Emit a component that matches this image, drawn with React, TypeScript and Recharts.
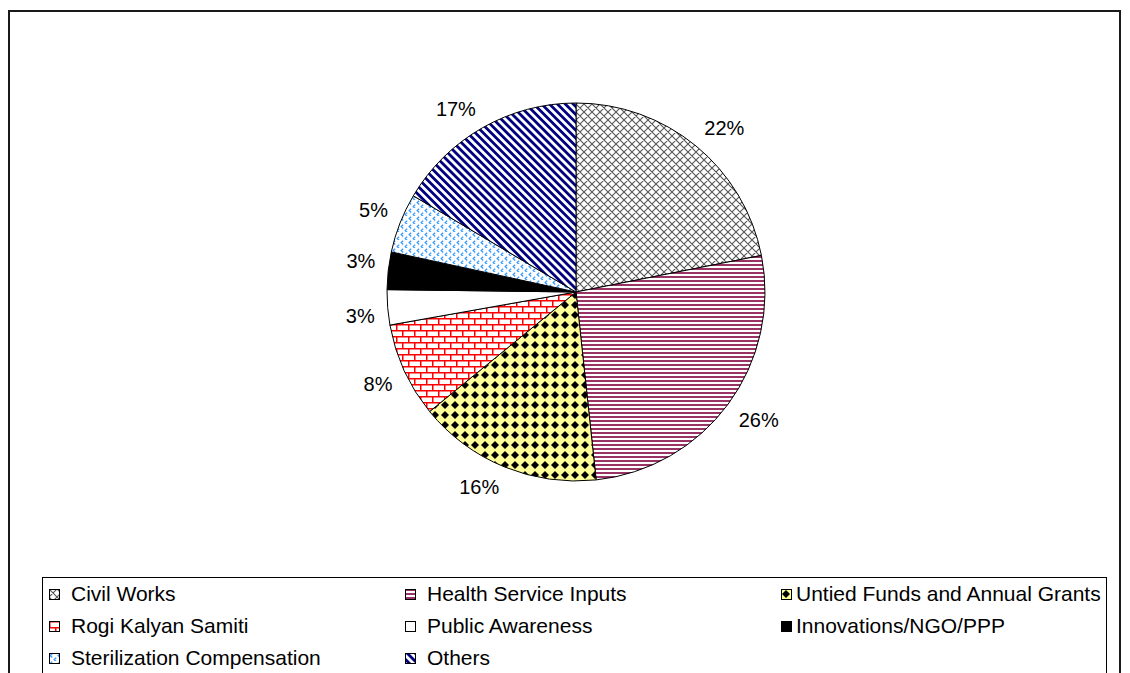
import React from 'react';
import { PieChart, Pie, Cell, Legend } from 'recharts';

const categories = [
  'Civil Works',
  'Health Service Inputs',
  'Untied Funds and Annual Grants',
  'Rogi Kalyan Samiti',
  'Public Awareness',
  'Innovations/NGO/PPP',
  'Sterilization Compensation',
  'Others',
];
const shares = [21.9, 26.4, 15.8, 8.1, 3.0, 3.2, 5.1, 16.5];
const fills = ['url(#p-cw)', 'url(#p-hsi)', 'url(#p-uf)', 'url(#p-rks)', '#ffffff', '#000000', 'url(#p-st)', 'url(#p-ot)'];
const legendColors = ['#808080', '#993366', '#ffff99', '#ff0000', '#ffffff', '#000000', '#3c8ce7', '#000080'];

const data = categories.map((name, i) => ({ name, value: shares[i] }));

const FONT = '"Liberation Sans", Arial, sans-serif';
const RAD = Math.PI / 180;

const renderLabel = (props: any) => {
  const { cx, cy, midAngle, outerRadius, value } = props;
  const r = outerRadius + 13;
  const c = Math.cos(-midAngle * RAD);
  const s = Math.sin(-midAngle * RAD);
  const x = cx + r * c;
  const y = cy + r * s;
  const anchor = c >= 0 ? 'start' : 'end';
  const yy = s < 0 ? y - 8 : y + 8;
  return (
    <text x={x} y={yy} textAnchor={anchor} dominantBaseline="central" fontSize={20} fontFamily={FONT} fill="#000">
      {Math.round(value) + '%'}
    </text>
  );
};

const colText = [71, 427, 796];
const colIcon = [49, 405, 781];
const rowY = [594, 626, 658];
const LEG_LEFT = 42;
const LEG_TOP = 577;

const LegendContent = (props: any) => {
  const payload: any[] = props.payload || [];
  const ordered = categories.map((c) => payload.find((p: any) => p.value === c) || { value: c });
  return (
    <div style={{ position: 'relative', width: '100%', height: '100%' }}>
      {ordered.map((entry: any, i: number) => {
        const col = i % 3;
        const row = Math.floor(i / 3);
        const top = rowY[row] - LEG_TOP - 1;
        return (
          <React.Fragment key={i}>
            <svg
              width={11}
              height={11}
              style={{ position: 'absolute', left: colIcon[col] - LEG_LEFT - 1, top: top - 5 }}
            >
              <rect x={0.5} y={0.5} width={10} height={10} fill={fills[i]} stroke="#000" strokeWidth={1} />
            </svg>
            <span
              style={{
                position: 'absolute',
                left: colText[col] - LEG_LEFT - 1,
                top: top - 13,
                lineHeight: '26px',
                fontSize: 21,
                fontFamily: FONT,
                color: '#000',
                whiteSpace: 'nowrap',
              }}
            >
              {entry.value}
            </span>
          </React.Fragment>
        );
      })}
    </div>
  );
};

export default function App() {
  return (
    <div style={{ position: 'absolute', left: 0, top: 0, width: 1130, height: 673, overflow: 'hidden', background: '#fff' }}>
      <div
        style={{
          position: 'absolute',
          left: 8,
          top: 10,
          width: 1113,
          height: 700,
          border: '2px solid #1a1a1a',
          boxSizing: 'border-box',
        }}
      />
      <div style={{ position: 'absolute', left: 0, top: 0 }}>
        <PieChart width={1130} height={673} margin={{ top: 0, right: 0, bottom: 0, left: 0 }}>
          <defs>
            <pattern id="p-cw" patternUnits="userSpaceOnUse" width={8} height={8}>
              <rect width={8} height={8} fill="#fff" />
              <path d="M0,0 L8,8 M8,0 L0,8 M-1,7 L1,9 M7,-1 L9,1 M-1,1 L1,-1 M7,9 L9,7" stroke="#555" strokeWidth={1.1} />
            </pattern>
            <pattern id="p-hsi" patternUnits="userSpaceOnUse" width={8} height={4}>
              <rect width={8} height={4} fill="#fff" />
              <rect y={0} width={8} height={2} fill="#993366" />
            </pattern>
            <pattern id="p-uf" patternUnits="userSpaceOnUse" width={10} height={10}>
              <rect width={10} height={10} fill="#ffff99" />
              <path d="M5,1 L9,5 L5,9 L1,5 Z" fill="#000" />
            </pattern>
            <pattern id="p-rks" patternUnits="userSpaceOnUse" width={12} height={12}>
              <rect width={12} height={12} fill="#fff" />
              <path d="M0,0.75 H12 M0,6.75 H12 M0.75,0 V6.75 M6.75,6.75 V12" stroke="#ff0000" strokeWidth={1.5} />
            </pattern>
            <pattern id="p-st" patternUnits="userSpaceOnUse" width={8} height={8}>
              <rect width={8} height={8} fill="#fff" />
              <path d="M3.2,0.8 L1.2,2.6 L3.2,4.4" stroke="#3399ff" strokeWidth={1.3} fill="none" />
              <path d="M7.2,4.8 L5.2,6.6 L7.2,8.4" stroke="#3399ff" strokeWidth={1.3} fill="none" />
            </pattern>
            <pattern id="p-ot" patternUnits="userSpaceOnUse" width={5.6} height={5.6} patternTransform="rotate(-45)">
              <rect width={5.6} height={5.6} fill="#fff" />
              <rect width={2.8} height={5.6} fill="#000080" />
            </pattern>
          </defs>
          <Pie
            data={data}
            dataKey="value"
            nameKey="name"
            cx={576}
            cy={292}
            outerRadius={189}
            startAngle={90}
            endAngle={-270}
            stroke="#000"
            strokeWidth={1}
            label={renderLabel}
            labelLine={false}
            isAnimationActive={false}
          >
            {data.map((d, i) => (
              <Cell key={d.name} fill={fills[i]} />
            ))}
          </Pie>
          <Legend
            content={<LegendContent />}
            verticalAlign="bottom"
            wrapperStyle={{
              position: 'absolute',
              left: LEG_LEFT,
              top: LEG_TOP,
              bottom: 'auto',
              width: 1107 - LEG_LEFT,
              height: 120,
              border: '1px solid #000',
              boxSizing: 'border-box',
              background: '#fff',
            }}
            payload={categories.map((c, i) => ({ value: c, type: 'square', color: legendColors[i], id: c }))}
          />
        </PieChart>
      </div>
    </div>
  );
}
